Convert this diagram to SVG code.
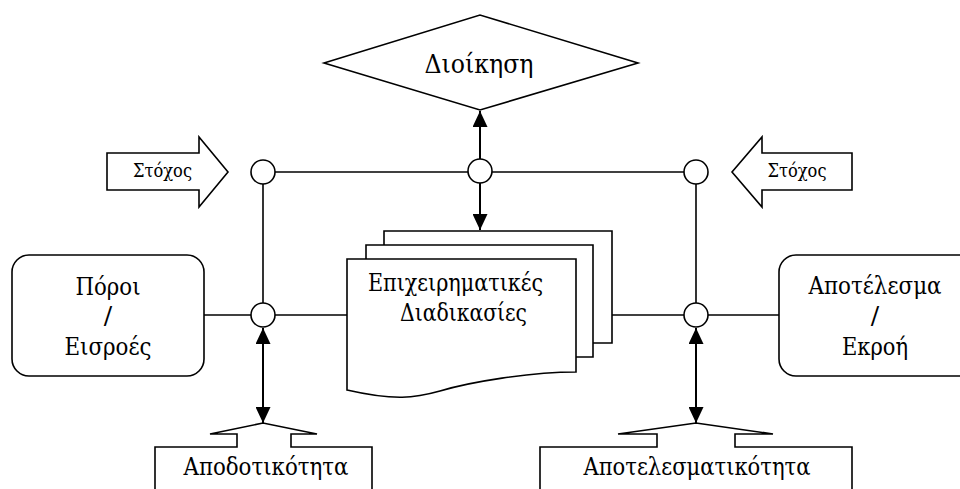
<svg xmlns="http://www.w3.org/2000/svg" width="960" height="489" viewBox="0 0 960 489">
  <style>
    .shape { fill: #fff; stroke: #000; stroke-width: 1.6; stroke-linejoin: miter; }
    .wire { fill: none; stroke: #000; stroke-width: 1.6; }
    .arrow { fill: none; stroke: #000; stroke-width: 2; }
    .node { fill: #fff; stroke: #000; stroke-width: 1.6; }
    .lbl { fill: #000; text-anchor: middle; }
  </style>
  <defs>
    <marker id="head" viewBox="0 0 16 15" refX="16" refY="7.5" markerWidth="16" markerHeight="15" markerUnits="userSpaceOnUse" orient="auto-start-reverse">
      <path d="M0,0 L16,7.5 L0,15 Z" fill="#000"/>
    </marker>
  </defs>

  <!-- connectors -->
  <g id="connectors">
    <line class="wire" x1="275" y1="172" x2="468" y2="172"/>
    <line class="wire" x1="492" y1="172" x2="684" y2="172"/>
    <line class="wire" x1="263" y1="184" x2="263" y2="303"/>
    <line class="wire" x1="696" y1="184" x2="696" y2="303"/>
    <line class="wire" x1="204" y1="315" x2="251" y2="315"/>
    <line class="wire" x1="275" y1="315" x2="347" y2="315"/>
    <line class="wire" x1="612" y1="315" x2="684" y2="315"/>
    <line class="wire" x1="708" y1="315" x2="779" y2="315"/>
    <line class="arrow" x1="480" y1="159" x2="480" y2="111" marker-end="url(#head)"/>
    <line class="arrow" x1="480" y1="183" x2="480" y2="230" marker-end="url(#head)"/>
    <line class="arrow" x1="263" y1="328" x2="263" y2="423" marker-start="url(#head)" marker-end="url(#head)"/>
    <line class="arrow" x1="696" y1="328" x2="696" y2="423" marker-start="url(#head)" marker-end="url(#head)"/>
  </g>

  <g font-family="'DejaVu Serif', serif">
    <!-- management -->
    <g id="dioikisi">
      <polygon class="shape" points="324,63 480,15 638,63 480,110"/>
      <text class="lbl" x="479" y="73" font-size="26" textLength="109" lengthAdjust="spacingAndGlyphs">Διοίκηση</text>
    </g>

    <!-- goal arrows -->
    <g id="stoxos-left">
      <polygon class="shape" points="107,153 199,153 199,137 228,172 199,207 199,190 107,190"/>
      <text class="lbl" x="162.5" y="177" font-size="19" textLength="59" lengthAdjust="spacingAndGlyphs">Στόχος</text>
    </g>
    <g id="stoxos-right">
      <polygon class="shape" points="852,153 762,153 762,137 732,172 762,207 762,190 852,190"/>
      <text class="lbl" x="797" y="177" font-size="19" textLength="59" lengthAdjust="spacingAndGlyphs">Στόχος</text>
    </g>

    <!-- junctions -->
    <g id="junctions">
      <circle class="node" cx="263" cy="172" r="12"/>
      <circle class="node" cx="480" cy="171" r="12"/>
      <circle class="node" cx="696" cy="172" r="12"/>
      <circle class="node" cx="263" cy="315" r="12"/>
      <circle class="node" cx="696" cy="315" r="12"/>
    </g>

    <!-- inputs -->
    <g id="poroi" font-size="25">
      <rect class="shape" x="12" y="255" width="192" height="121" rx="17" ry="17"/>
      <text class="lbl" x="108" y="295" textLength="65" lengthAdjust="spacingAndGlyphs">Πόροι</text>
      <text class="lbl" x="108" y="324">/</text>
      <text class="lbl" x="108" y="355" textLength="87" lengthAdjust="spacingAndGlyphs">Εισροές</text>
    </g>

    <!-- outputs -->
    <g id="apotelesma" font-size="25">
      <rect class="shape" x="779" y="255" width="200" height="121" rx="17" ry="17"/>
      <text class="lbl" x="875" y="294" textLength="133" lengthAdjust="spacingAndGlyphs">Αποτέλεσμα</text>
      <text class="lbl" x="875" y="324">/</text>
      <text class="lbl" x="875" y="355" textLength="66" lengthAdjust="spacingAndGlyphs">Εκροή</text>
    </g>

    <!-- stacked documents: business processes -->
    <g id="diadikasies" font-size="25">
      <path class="shape" d="M384,259 V231 H612 V343 H593"/>
      <path class="shape" d="M366,259 V245 H593 V357 H576"/>
      <path class="shape" d="M347,259 H576 V372 C530,372 470,382 440,391 C415,398 395,401 347,390 Z"/>
      <text class="lbl" x="455.5" y="291" textLength="175" lengthAdjust="spacingAndGlyphs">Επιχειρηματικές</text>
      <text class="lbl" x="463.5" y="321" textLength="127" lengthAdjust="spacingAndGlyphs">Διαδικασίες</text>
    </g>

    <!-- efficiency -->
    <g id="apodotikotita" font-size="25">
      <path class="shape" d="M155,489 V447 H237 V434 H210 L263,423 L317,434 H291 V447 H372 V489"/>
      <text class="lbl" x="266" y="475" textLength="165" lengthAdjust="spacingAndGlyphs">Αποδοτικότητα</text>
    </g>

    <!-- effectiveness -->
    <g id="apotelesmatikotita" font-size="25">
      <path class="shape" d="M540,489 V447 H657 V434 H618 L696,423 L773,434 H735 V447 H852 V489"/>
      <text class="lbl" x="697" y="475" textLength="227" lengthAdjust="spacingAndGlyphs">Αποτελεσματικότητα</text>
    </g>
  </g>
</svg>
